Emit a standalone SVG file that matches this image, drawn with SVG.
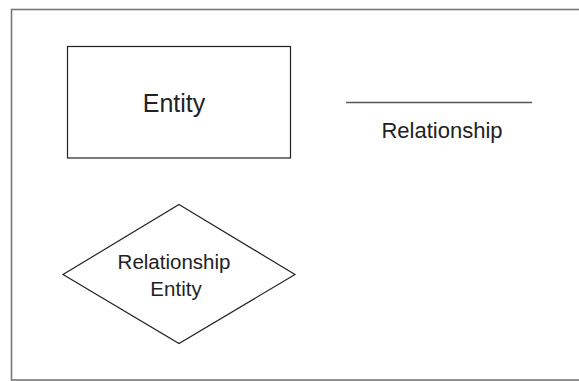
<svg xmlns="http://www.w3.org/2000/svg" width="579" height="381" viewBox="0 0 579 381">
<style>
.shape{fill:#fff;stroke:#222;stroke-width:1.2}
.lbl{font-family:"Liberation Sans",Arial,sans-serif;fill:#222;text-anchor:middle}
</style>
<rect x="0" y="0" width="579" height="381" fill="#fff"/>
<rect id="frame" x="11.5" y="9.5" width="600" height="370.5" fill="none" stroke="#777" stroke-width="1.6"/>
<g id="entity">
<rect class="shape" x="67.5" y="46.5" width="223" height="111.5"/>
<text class="lbl" x="174" y="112" font-size="25">Entity</text>
</g>
<g id="connectors">
<line id="relationship-line" x1="346" y1="102.5" x2="532" y2="102.5" stroke="#555" stroke-width="1.4"/>
</g>
<g id="relationship">
<text class="lbl" x="442" y="137.5" font-size="22">Relationship</text>
</g>
<g id="relationship-entity">
<polygon class="shape" points="179,204.5 295,274.5 179,343.5 63,274.5"/>
<text class="lbl" x="174" y="268.5" font-size="20.5">Relationship</text>
<text class="lbl" x="176" y="295.5" font-size="20.5">Entity</text>
</g>
</svg>
